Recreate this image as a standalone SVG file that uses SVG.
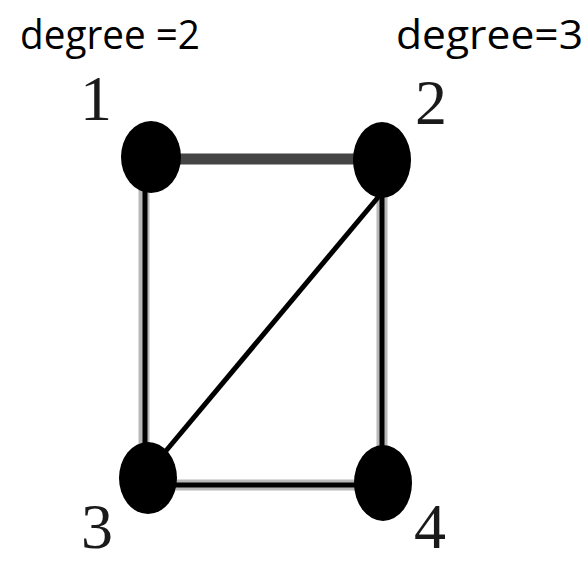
<svg xmlns="http://www.w3.org/2000/svg" width="588" height="563" viewBox="0 0 588 563">
<style>
.hdr{font-family:"Open Sans","Liberation Sans",sans-serif;font-size:41px;fill:#000}
.lbl{font-family:"Liberation Serif","DejaVu Serif",serif;font-size:64px;fill:#1a1a1a;text-anchor:middle}
.node{fill:#000}
.halo{stroke:#b8b8b8;stroke-width:11;fill:none}
.core{stroke:#000;stroke-width:5;fill:none}
</style>
<rect width="588" height="563" fill="#fff"/>
<text class="hdr" x="20" y="49" textLength="180" lengthAdjust="spacingAndGlyphs">degree =2</text>
<text class="hdr" x="396" y="49" textLength="187" lengthAdjust="spacingAndGlyphs">degree=3</text>
<g id="edges">
<line x1="150" y1="159" x2="382" y2="159" stroke="#444" stroke-width="11"/>
<line class="halo" x1="144" y1="160" x2="144" y2="478"/>
<line class="core" x1="145" y1="160" x2="145" y2="478"/>
<line class="halo" x1="382" y1="162" x2="382" y2="484"/>
<line class="core" x1="382" y1="162" x2="382" y2="484"/>
<line class="halo" x1="149" y1="485" x2="383" y2="485"/>
<line class="core" x1="149" y1="485" x2="383" y2="485"/>
<line x1="380" y1="195" x2="160" y2="458" stroke="#000" stroke-width="5"/>
</g>
<g id="node1"><ellipse class="node" cx="151" cy="157" rx="30" ry="36"/><text class="lbl" x="96" y="120">1</text></g>
<g id="node2"><ellipse class="node" cx="382" cy="160" rx="29" ry="38"/><text class="lbl" x="431" y="124">2</text></g>
<g id="node3"><ellipse class="node" cx="148" cy="478" rx="29" ry="36"/><text class="lbl" x="97" y="548">3</text></g>
<g id="node4"><ellipse class="node" cx="383" cy="483" rx="29" ry="38"/><text class="lbl" x="430" y="548">4</text></g>
</svg>
